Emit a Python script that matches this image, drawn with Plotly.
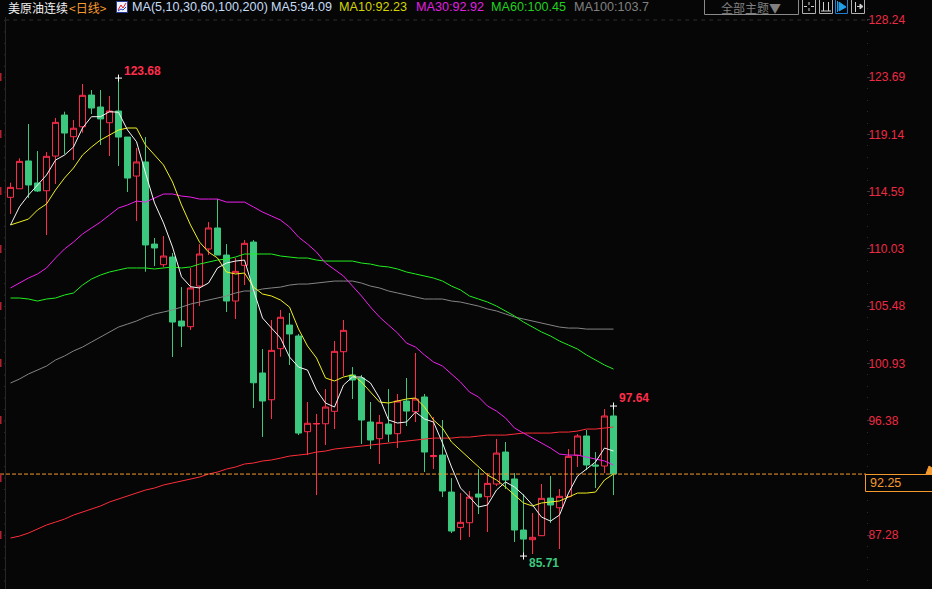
import plotly.graph_objects as go

W, H = 932, 589
PLOT_W = 866
BG = "#060606"
RED = "#ff2d4b"
GREEN = "#3cc87f"
ORANGE = "#f59a2f"

days = list(range(68))
opens = [114.14,114.82,117.03,115.28,114.66,117.42,120.68,118.96,119.75,122.27,
         121.32,120.07,121.00,118.93,115.83,116.95,110.42,108.78,109.39,104.30,
         103.85,107.08,110.03,111.70,109.55,105.89,108.73,110.58,100.17,98.04,
         102.10,103.98,103.11,95.50,96.11,96.13,97.12,101.86,100.01,99.77,
         96.27,94.94,96.11,95.34,97.94,97.09,98.26,93.52,93.64,90.70,
         87.89,88.26,90.54,90.33,91.34,93.88,91.74,87.68,86.91,87.23,
         90.22,89.45,90.33,93.62,95.16,92.85,92.77,96.75]
closes = [114.93,117.00,115.12,114.64,117.40,120.10,119.25,119.63,122.25,121.24,
          120.37,121.00,118.93,115.67,116.95,110.35,110.11,109.47,104.22,103.90,
          106.93,109.63,111.70,109.55,105.89,108.25,110.48,99.39,97.94,101.97,
          104.60,103.27,95.39,96.17,96.15,97.46,101.89,103.56,99.61,96.43,
          94.84,96.24,95.31,97.94,97.14,98.10,93.88,93.60,90.78,87.60,
          88.29,90.30,90.30,91.39,93.80,91.66,87.68,86.96,87.10,90.20,
          89.67,90.36,93.54,95.16,92.85,92.77,96.75,92.13]
highs = [115.30,117.24,119.97,117.82,117.74,120.45,120.95,120.29,123.15,122.67,
         122.67,122.20,123.62,118.93,118.06,118.93,110.90,111.06,109.71,107.00,
         108.52,110.42,112.17,114.00,110.42,109.31,110.74,110.74,102.07,104.38,
         105.18,104.94,103.27,97.86,96.91,98.89,102.71,104.38,100.64,100.01,
         97.86,96.83,98.89,98.50,99.77,101.76,98.50,96.67,96.43,91.81,
         90.62,90.78,92.53,92.21,94.92,94.68,92.21,90.54,89.03,91.34,
         91.97,90.94,94.12,95.31,95.63,93.88,97.30,97.54]
lows = [112.81,114.82,114.08,114.56,111.14,115.20,117.56,117.10,119.28,120.76,
        118.30,117.42,116.63,114.56,112.25,108.22,108.67,108.60,101.44,102.23,
        103.59,105.49,109.55,109.55,105.02,104.46,107.16,97.38,95.08,96.51,
        101.46,100.80,95.23,93.64,90.46,94.44,95.71,99.93,98.10,94.52,
        94.12,92.93,94.68,94.20,95.95,96.27,92.29,92.53,90.30,87.44,
        86.88,87.12,88.95,87.52,91.18,90.94,86.73,85.61,85.77,87.23,
        88.24,86.17,90.30,92.69,92.45,91.02,92.21,90.46]

ma5 = [111.94,113.39,114.32,115.12,115.91,117.10,117.50,118.14,119.65,120.55,
       120.55,120.95,120.90,119.49,118.56,116.07,113.69,112.10,110.19,107.82,
       107.03,106.93,107.32,108.52,108.91,109.07,109.15,106.77,104.54,103.74,
       102.95,101.44,100.64,100.40,98.81,97.78,97.46,99.21,99.85,99.85,
       99.37,98.18,96.43,96.19,96.27,97.06,96.51,96.27,94.60,92.69,
       91.02,90.30,89.51,89.67,90.86,91.50,91.10,90.46,89.67,88.71,
       88.39,88.87,90.62,91.97,92.53,93.09,94.20,93.96]
ma10 = [111.94,112.17,112.41,113.13,113.61,114.72,115.67,116.47,117.50,118.14,
        118.70,119.09,119.49,119.65,119.65,118.30,117.50,116.71,115.36,113.53,
        111.94,110.58,109.79,109.31,108.20,108.04,108.12,107.00,106.45,106.29,
        105.97,105.41,103.67,102.31,101.36,99.77,99.53,99.85,100.01,99.45,
        98.65,97.86,97.78,97.94,98.10,98.18,97.46,96.43,95.79,94.68,
        94.04,93.40,92.69,92.05,91.66,91.10,90.46,89.83,89.59,89.83,
        89.91,89.99,90.30,90.62,90.62,90.70,91.66,92.13]
ma30 = [106.93,107.32,107.72,108.04,108.52,109.31,110.03,110.58,111.22,111.70,
        112.17,112.73,113.29,113.53,113.84,113.76,114.08,114.40,114.40,114.24,
        114.16,114.00,114.00,114.00,113.76,113.76,113.76,113.37,112.97,112.65,
        112.33,111.78,110.98,110.42,109.79,108.91,108.36,107.88,107.08,106.29,
        105.41,104.62,103.98,103.35,102.55,102.23,101.60,101.04,100.72,100.09,
        99.45,98.65,98.26,97.54,97.14,96.59,95.79,95.39,94.99,94.60,
        94.20,93.72,93.64,93.64,93.48,93.33,93.17,92.85]
ma60 = [106.13,106.13,106.05,105.89,106.05,106.13,106.37,106.53,107.16,107.64,
        107.96,108.20,108.36,108.52,108.52,108.52,108.44,108.52,108.60,108.52,
        108.60,108.83,108.99,109.15,109.23,109.39,109.63,109.63,109.63,109.63,
        109.47,109.39,109.31,109.31,109.15,109.07,109.07,109.07,109.07,108.91,
        108.83,108.67,108.60,108.44,108.20,108.04,107.88,107.72,107.48,107.08,
        106.77,106.29,106.05,105.81,105.49,105.10,104.70,104.22,103.82,103.43,
        103.11,102.71,102.39,102.07,101.60,101.20,100.80,100.48]
ma100 = [99.37,99.69,100.09,100.40,100.72,101.20,101.52,101.92,102.23,102.63,
         103.03,103.43,103.82,104.06,104.30,104.62,104.86,105.02,105.18,105.41,
         105.65,105.81,105.97,106.13,106.29,106.53,106.69,106.69,106.85,106.93,
         107.00,107.16,107.24,107.24,107.32,107.40,107.48,107.48,107.48,107.32,
         107.08,106.93,106.69,106.53,106.37,106.21,106.05,106.05,106.05,105.89,
         105.81,105.65,105.49,105.26,105.10,104.86,104.62,104.46,104.30,104.14,
         103.98,103.82,103.74,103.74,103.66,103.66,103.66,103.66]
ma200 = [87.04,87.20,87.44,87.76,88.08,88.31,88.55,88.87,89.11,89.35,
         89.59,89.91,90.15,90.38,90.62,90.86,91.02,91.26,91.42,91.58,
         91.73,91.89,92.13,92.29,92.53,92.69,92.93,93.01,93.17,93.25,
         93.40,93.56,93.64,93.72,93.88,93.96,94.12,94.20,94.28,94.36,
         94.44,94.52,94.60,94.68,94.76,94.84,94.92,94.99,94.99,94.99,
         95.07,95.07,95.15,95.23,95.23,95.23,95.31,95.39,95.39,95.39,
         95.39,95.47,95.47,95.55,95.71,95.71,95.79,95.87]

tick_values = [128.24,123.69,119.14,114.59,110.03,105.48,100.93,96.38,87.28]
tick_labels = ["128.24","123.69","119.14","114.59","110.03","105.48","100.93","96.38","87.28"]
last_line_value = 92.13
last_label = "92.25"

extreme_idx = [12, 57, 67]
extreme_val = [123.62, 85.61, 97.54]

ma_series = [
    ("MA200", ma200, "#ff2d3a"),
    ("MA100", ma100, "#848484"),
    ("MA60", ma60, "#22ee20"),
    ("MA30", ma30, "#ee20ee"),
    ("MA10", ma10, "#f0f020"),
    ("MA5", ma5, "#f6f6f6"),
]

px = lambda x: x / PLOT_W
py = lambda y: 1 - y / H

fig = go.Figure()
fig.add_trace(go.Candlestick(
    x=days, open=opens, high=highs, low=lows, close=closes,
    increasing=dict(line=dict(color=RED, width=1), fillcolor=BG),
    decreasing=dict(line=dict(color=GREEN, width=1), fillcolor=GREEN),
    whiskerwidth=0, showlegend=False, hoverinfo="skip",
))
for name, vals, col in ma_series:
    fig.add_trace(go.Scatter(x=days, y=vals, mode="lines", name=name,
                             line=dict(color=col, width=1), showlegend=False, hoverinfo="skip"))
fig.add_trace(go.Scatter(x=extreme_idx, y=extreme_val, mode="markers", showlegend=False, hoverinfo="skip",
                         marker=dict(symbol="cross-thin", size=5, line=dict(color="#ffffff", width=1))))

shapes = []
def rect(x0, y0, x1, y1, line="#888888", fill="rgba(0,0,0,0)", w=1):
    shapes.append(dict(type="rect", xref="paper", yref="paper", x0=px(x0), x1=px(x1), y0=py(y0), y1=py(y1),
                       line=dict(color=line, width=w), fillcolor=fill, layer="above"))
def seg(x0, y0, x1, y1, color, w=1, dash="solid"):
    shapes.append(dict(type="line", xref="paper", yref="paper", x0=px(x0), x1=px(x1), y0=py(y0), y1=py(y1),
                       line=dict(color=color, width=w, dash=dash), layer="above"))
def poly(points, color, fill=None, w=1):
    path = "M " + " L ".join(f"{px(a):.5f} {py(b):.5f}" for a, b in points)
    if fill:
        path += " Z"
    shapes.append(dict(type="path", xref="paper", yref="paper", path=path,
                       line=dict(color=color, width=w), fillcolor=fill or "rgba(0,0,0,0)", layer="above"))

# top grid, current price line
shapes.append(dict(type="line", xref="x domain", yref="y", x0=0.006, x1=1, y0=tick_values[0], y1=tick_values[0],
                   line=dict(color="#2e2e2e", width=1, dash="4px,4px"), layer="below"))
shapes.append(dict(type="line", xref="x domain", yref="y", x0=0, x1=1, y0=last_line_value, y1=last_line_value,
                   line=dict(color=ORANGE, width=1, dash="4px,2px"), layer="above"))
# left axis and clipped label fragments
seg(5.5, 17, 5.5, 589, "#262626")
for k in range(50):
    y = 20 + 11.44 * k + 0.5
    seg(4, y, 5, y, "#2c2c2c")
for y in [77, 134, 191, 249, 306, 363, 420, 478, 535]:
    rect(-1, y - 4, 1.5, y + 4, line="rgba(0,0,0,0)", fill="#b3202f", w=0)
# last price box
rect(865.5, 474.5, 934, 491.5, line=ORANGE, fill=BG)
poly([(926, 474), (932, 474), (932, 468), (929, 466)], ORANGE, fill=ORANGE)
# header icon
rect(116.5, 1.5, 127.5, 12.5, line="#2a3a9a", fill="#f0f4ff")
poly([(118, 10), (121, 5), (123, 8), (126, 3)], "#e02020")
poly([(118, 11), (121, 9), (123, 10), (126, 7)], "#2040c0")
# theme selector
rect(704.5, -2, 798.5, 14.5, line="#8a8a8a")
# tool buttons
rect(802.5, -2, 815.5, 13.5, line="#b0b0b0")
for a, b, c, d in [(809, 2, 809, 5), (809, 8, 809, 11), (804, 6.5, 807, 6.5), (811, 6.5, 814, 6.5)]:
    seg(a, b, c, d, "#d0d0d0")
rect(819.5, -2, 832.5, 13.5, line="#b0b0b0")
seg(823.5, 2, 823.5, 11, "#d0d0d0"); seg(828.5, 2, 828.5, 11, "#d0d0d0"); seg(821, 11, 831, 11, "#d0d0d0")
rect(835.5, -2, 847.5, 13.5, line="#1f7fd0")
poly([(839, 2), (846, 7), (839, 11)], "#1f9fe8", fill="#1f9fe8")
seg(837.5, 1, 837.5, 12, "#1f9fe8")
rect(851.5, -2, 864.5, 13.5, line="#b0b0b0")
seg(855.5, 2, 855.5, 12, "#d0d0d0"); seg(857, 6.5, 862, 6.5, "#d0d0d0")
poly([(860, 4), (863, 6.5), (860, 9)], "#d0d0d0", fill="#d0d0d0")

CJK = "Noto Sans CJK SC, Liberation Sans"
LAT = "Liberation Sans"
def label(x, y, text, color, size=12.6, family=LAT, anchor="left"):
    return dict(xref="paper", yref="paper", x=px(x), y=py(y), text=text, showarrow=False,
                xanchor=anchor, yanchor="middle", font=dict(color=color, size=size, family=family),
                borderpad=0, align=anchor)

annotations = [
    label(7, 7.5, "美原油连续", "#f0f0f0", 12, CJK),
    label(68, 7.5, "&lt;日线&gt;", "#f59a2f", 12, CJK),
    label(131, 7, "MA(5,10,30,60,100,200)", "#c4dcf4"),
    label(270, 7, "MA5:94.09", "#c4dcf4"),
    label(338, 7, "MA10:92.23", "#d4d400"),
    label(415, 7, "MA30:92.92", "#e020e0"),
    label(490, 7, "MA60:100.45", "#22d020"),
    label(573, 7, "MA100:103.7", "#808080"),
    label(751, 7, "全部主题▼", "#808080", 12, CJK, "center"),
    label(123, 71, "<b>123.68</b>", RED, 12),
    label(618, 398, "<b>97.64</b>", RED, 12),
    label(528, 563, "<b>85.71</b>", GREEN, 12),
    label(868.5, 482.5, last_label, ORANGE, 12.5),
]

fig.update_layout(
    width=W, height=H, autosize=False,
    margin=dict(l=0, r=W - PLOT_W, t=0, b=0, pad=0),
    paper_bgcolor=BG, plot_bgcolor=BG, showlegend=False, boxgap=0.33, boxgroupgap=0,
    font=dict(family=LAT, size=12, color=RED),
    shapes=shapes, annotations=annotations, hovermode=False,
    xaxis=dict(range=[-1.1667, 95.0556], visible=False, rangeslider=dict(visible=False), fixedrange=True),
    yaxis=dict(range=[82.99, 129.83], side="right", showgrid=False, zeroline=False, fixedrange=True,
               tickmode="array", tickvals=tick_values, ticktext=tick_labels,
               ticks="outside", ticklen=3, tickcolor="#3a3a3a", tickwidth=1,
               tickfont=dict(family=LAT, size=12, color="#ee2a44"),
               ticklabelstandoff=-4, showline=False,
               minor=dict(tickmode="linear", tick0=87.28, dtick=0.91, ticks="outside", ticklen=1,
                          tickcolor="#2c2c2c", tickwidth=1, showgrid=False)),
)

fig.write_html("out.html", config={"displayModeBar": False},
               post_script="document.body.style.margin='0';document.body.style.overflow='hidden';document.body.style.background='#060606';")
